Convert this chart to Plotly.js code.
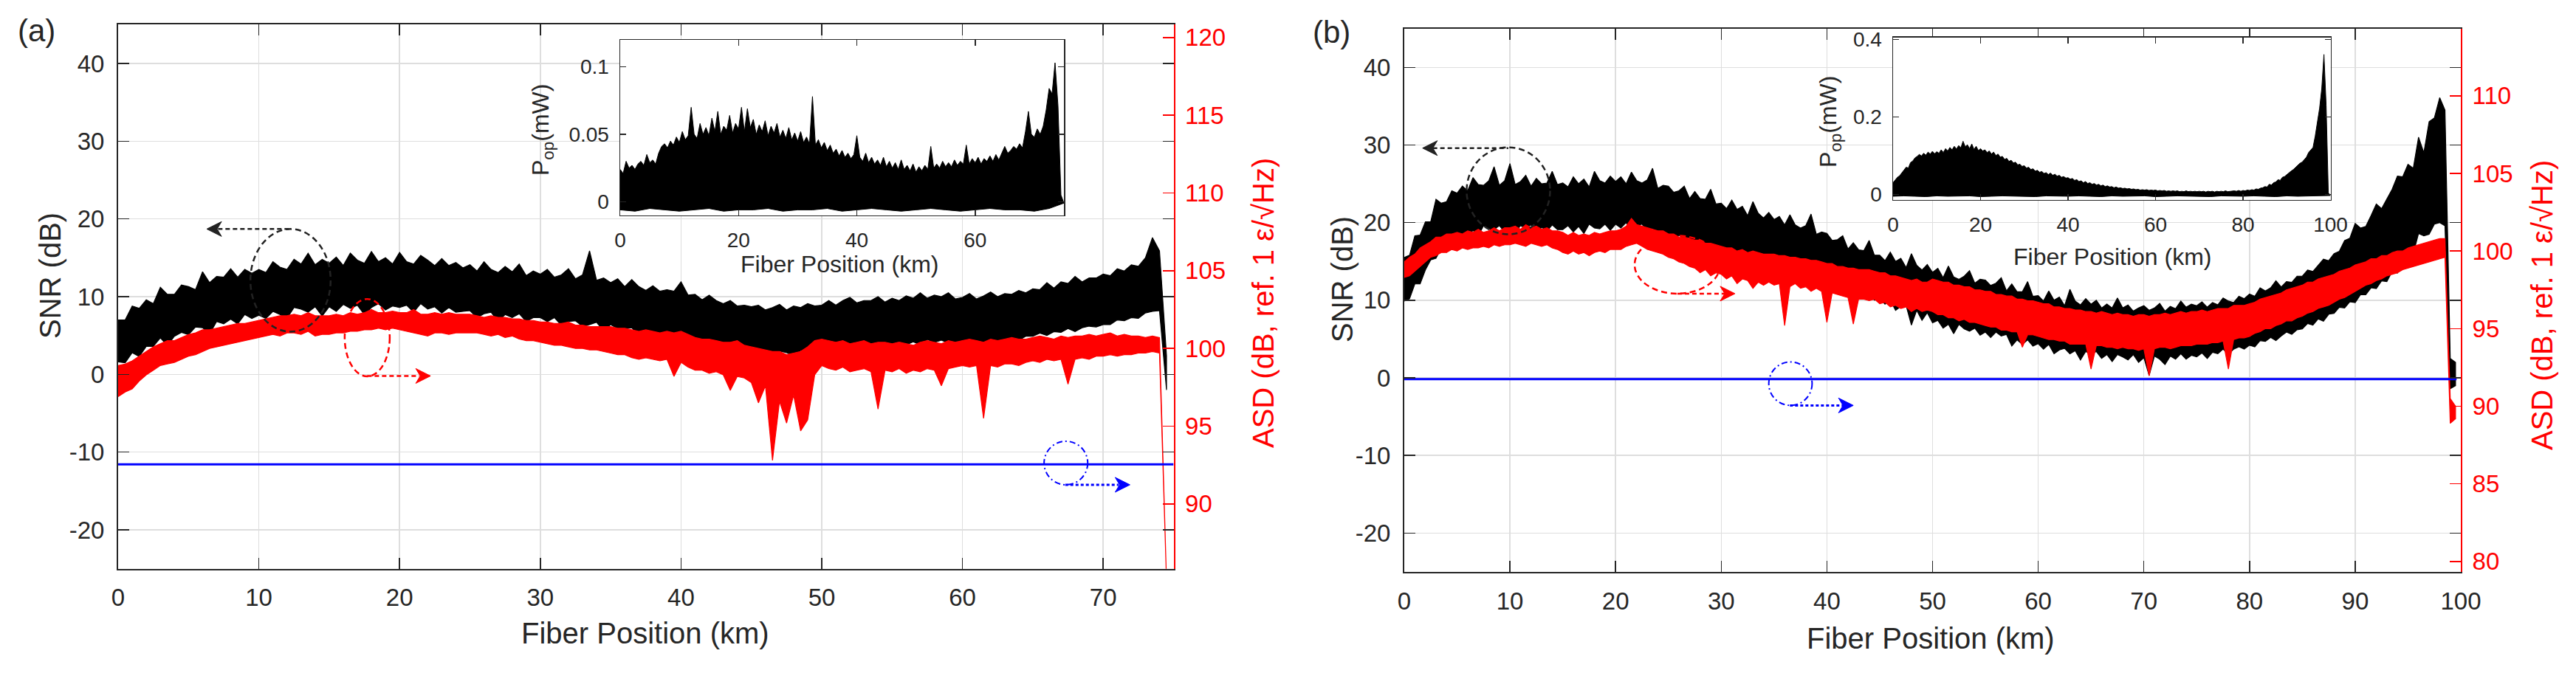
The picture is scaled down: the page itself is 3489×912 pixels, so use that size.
<!DOCTYPE html>
<html><head><meta charset="utf-8">
<script src="https://cdn.plot.ly/plotly-3.0.1.min.js"></script>
<style>html,body{margin:0;padding:0;background:#fff;}#chart{width:3489px;height:912px;}</style>
</head><body><div id="chart"></div>
<script>
// ===================== DATA =====================
// Panel (a): 75 km fibre. Envelopes of the dense traces, one bin every 0.5 km starting at 0 km.
const binKmA = 0.5;
const snrA_hi = [7.0,7.0,8.8,8.5,9.6,9.1,11.2,10.3,10.3,11.5,
11.3,10.9,13.2,11.8,12.6,12.5,13.6,12.5,13.5,13.0,
13.5,13.1,14.5,13.8,13.5,14.8,14.2,15.6,14.1,14.8,
14.3,15.1,14.0,15.6,14.7,14.3,15.8,14.5,15.0,14.2,
15.7,14.5,14.2,15.3,14.7,14.0,14.9,14.0,14.4,13.7,
14.1,13.3,14.5,13.5,13.1,13.9,13.2,14.2,12.7,13.3,
12.9,13.5,12.5,12.8,13.6,12.3,12.8,15.9,12.1,12.4,
11.8,12.3,11.3,12.2,11.3,10.8,11.4,10.7,10.9,10.7,
11.9,10.2,10.3,9.6,10.2,9.5,9.1,9.5,8.8,8.9,
8.7,8.9,8.3,8.6,9.0,8.3,8.8,8.6,9.1,8.8,
8.9,9.5,8.9,9.5,9.9,9.2,9.5,9.5,10.0,9.3,
9.8,9.5,10.1,9.8,10.5,9.8,10.2,10.0,10.5,9.7,
9.9,10.4,9.7,10.1,10.6,10.0,10.4,10.3,10.8,10.5,
11.0,10.9,11.8,11.1,11.9,11.7,12.6,11.9,12.4,12.4,
12.9,12.7,13.6,13.3,14.1,13.9,15.0,17.6,15.9,2.4];
const snrA_lo = [1.6,1.5,2.8,2.3,3.6,3.6,4.7,3.7,4.9,5.4,
5.1,6.1,6.0,5.2,6.8,6.5,7.1,6.5,7.7,7.2,
7.6,7.2,8.1,7.7,7.2,8.6,8.4,8.0,8.7,7.5,
8.7,8.1,9.0,8.5,8.9,7.7,8.6,9.1,8.3,8.8,
8.6,8.9,8.0,9.1,8.4,8.7,7.9,8.6,8.0,8.1,
8.2,7.3,7.8,8.0,6.8,7.7,7.3,7.8,6.8,7.3,
7.3,6.8,7.3,6.3,6.8,6.9,6.2,6.4,6.7,5.6,
6.4,5.9,5.9,6.0,5.0,5.4,5.0,4.4,5.1,4.9,
4.9,4.3,4.6,4.0,4.0,3.2,3.8,3.3,2.9,3.2,
3.0,2.7,2.9,2.4,3.0,2.8,2.4,3.1,2.8,1.6,
3.5,3.3,3.1,3.9,3.6,3.4,3.8,3.6,4.0,3.8,
3.9,4.2,3.8,4.2,3.8,4.5,4.1,4.4,4.0,4.2,
4.3,4.0,4.4,4.1,4.6,4.1,4.4,4.7,4.4,4.9,
4.9,5.3,5.0,5.5,5.4,5.9,5.5,6.0,6.2,6.1,
6.4,6.4,7.0,6.9,7.3,7.2,7.9,8.1,8.2,-2.0];
const asdA_hi = [98.9,99.0,99.2,99.5,99.8,100.1,100.3,100.5,100.5,100.7,
100.9,101.0,101.2,101.2,101.3,101.4,101.5,101.6,101.6,101.7,
101.8,101.9,102.0,102.1,102.1,102.2,102.1,102.3,102.1,102.1,
102.1,102.2,102.1,102.3,102.2,102.3,102.5,102.3,102.3,102.4,
102.3,102.3,102.5,102.2,102.2,102.3,102.2,102.3,102.2,102.2,
102.2,102.1,102.0,102.1,102.0,102.0,101.9,101.9,101.8,101.8,
101.7,101.7,101.6,101.6,101.7,101.5,101.5,101.4,101.4,101.4,
101.4,101.3,101.3,101.2,101.1,101.2,101.1,101.0,101.1,101.0,
101.1,100.9,100.7,100.6,100.6,100.5,100.4,100.4,100.5,100.2,
100.1,100.0,99.9,99.8,99.8,99.6,99.7,99.8,100.1,100.5,
100.6,100.5,100.4,100.5,100.3,100.4,100.5,100.3,100.4,100.4,
100.3,100.4,100.3,100.2,100.4,100.5,100.4,100.3,100.5,100.4,
100.5,100.6,100.5,100.4,100.6,100.5,100.6,100.7,100.6,100.6,
100.7,100.8,100.7,100.6,100.8,100.7,100.8,100.8,100.9,100.8,
100.9,101.0,100.8,100.9,100.8,100.8,100.7,100.8,100.7,85.0];
const asdA_lo = [96.9,97.2,97.4,97.9,98.3,98.6,98.9,99.0,99.1,99.3,
99.5,99.6,99.8,100.0,100.1,100.2,100.3,100.4,100.5,100.6,
100.7,100.8,100.9,100.8,101.0,101.0,100.9,101.1,100.8,100.9,
100.9,101.0,101.0,101.1,101.1,101.2,101.2,101.3,101.2,101.3,
101.2,101.1,101.0,100.9,100.8,101.0,101.0,100.9,101.0,101.0,
101.0,101.0,100.9,100.8,100.9,100.7,100.8,100.6,100.5,100.5,
100.4,100.3,100.2,100.2,100.1,100.0,100.0,99.9,99.9,99.8,
99.7,99.6,99.6,99.4,99.3,99.4,99.3,99.2,99.3,98.2,
99.1,98.8,98.6,98.6,98.4,98.5,98.3,97.3,98.2,98.1,
97.8,96.5,97.6,92.8,96.6,95.2,97.0,94.7,95.4,98.3,
98.9,98.7,98.6,98.8,98.5,98.6,98.7,98.5,96.1,98.6,
98.5,98.7,98.4,98.6,98.5,98.7,98.6,97.6,98.7,98.8,
98.9,98.8,98.9,95.5,98.9,98.8,99.0,99.0,98.9,99.1,
99.2,99.1,99.3,99.2,99.3,97.7,99.3,99.4,99.3,99.5,
99.5,99.6,99.5,99.6,99.6,99.7,99.7,99.8,99.7,85.0];
const noiseFloorA_km = [0, 75];
const noiseFloorA_asd = [92.54, 92.54];
// Inset (a): optical power, top envelope every 0.5 km, bottom envelope every 2.5 km
const binKmPopTop = 0.5, binKmPopBot = 2.5;
const popA_top = [0.024,0.021,0.030,0.025,0.027,0.024,0.028,0.030,0.027,0.035,
0.029,0.031,0.028,0.036,0.041,0.043,0.040,0.045,0.042,0.048,
0.044,0.052,0.046,0.049,0.070,0.050,0.047,0.058,0.050,0.055,
0.049,0.062,0.052,0.067,0.050,0.056,0.053,0.064,0.051,0.058,
0.054,0.070,0.052,0.069,0.055,0.061,0.050,0.057,0.052,0.060,
0.049,0.056,0.051,0.058,0.048,0.053,0.047,0.055,0.046,0.051,
0.045,0.052,0.044,0.048,0.043,0.078,0.042,0.046,0.040,0.044,
0.038,0.042,0.036,0.039,0.034,0.038,0.033,0.036,0.032,0.035,
0.049,0.033,0.030,0.036,0.029,0.033,0.028,0.031,0.027,0.033,
0.026,0.030,0.025,0.029,0.024,0.031,0.024,0.027,0.023,0.028,
0.022,0.026,0.023,0.027,0.024,0.041,0.025,0.028,0.025,0.030,
0.026,0.029,0.026,0.031,0.027,0.030,0.028,0.042,0.028,0.032,
0.029,0.033,0.028,0.032,0.030,0.034,0.030,0.035,0.031,0.036,
0.041,0.036,0.038,0.041,0.039,0.043,0.040,0.052,0.067,0.050,
0.048,0.054,0.050,0.056,0.068,0.084,0.080,0.103,0.071,0.005];
const popA_bot = [-0.006,-0.007,-0.005,-0.006,-0.007,-0.006,-0.005,-0.007,-0.006,-0.006,
-0.005,-0.007,-0.006,-0.006,-0.005,-0.007,-0.006,-0.005,-0.006,-0.007,
-0.006,-0.005,-0.006,-0.007,-0.006,-0.005,-0.006,-0.006,-0.007,-0.005,-0.001];

// Panel (b): 100 km fibre, bins every 0.5 km
const binKmB = 0.5;
const snrB_hi = [15.5,15.8,18.3,18.4,20.1,20.1,23.0,22.5,22.7,24.1,
23.8,24.7,24.1,25.8,24.9,24.8,25.4,27.2,24.8,25.4,
27.6,24.9,25.3,26.1,24.7,25.7,25.0,25.1,26.6,24.9,
25.1,24.6,25.9,25.0,25.6,24.6,26.6,25.4,25.1,26.0,
25.3,25.9,25.0,26.5,25.4,25.1,25.5,27.0,24.4,24.8,
24.7,23.9,24.1,24.7,23.1,24.0,23.1,23.0,24.3,22.4,
22.5,21.8,22.9,21.7,22.1,20.9,22.7,21.2,20.6,21.3,
20.4,20.8,19.7,21.0,19.7,19.3,19.6,21.1,18.5,18.8,
18.6,17.7,17.8,18.3,16.6,17.4,16.5,16.4,17.7,15.8,
15.8,15.1,16.2,15.0,15.4,14.2,16.0,14.5,13.9,14.6,
13.6,14.1,12.9,14.4,13.0,12.7,13.1,13.8,12.2,12.7,
12.6,11.9,12.2,12.9,11.2,12.1,11.1,11.1,12.4,10.5,
10.6,9.9,11.2,10.0,10.4,9.3,11.4,9.9,9.4,10.2,
9.5,10.0,9.0,9.5,9.0,10.3,9.0,9.4,8.6,9.0,
9.3,8.7,9.0,9.6,8.6,9.2,8.9,9.9,9.1,9.5,
9.3,9.8,9.1,9.7,9.4,10.3,9.9,9.7,10.5,10.2,
10.8,10.5,11.6,11.2,11.6,12.5,11.7,12.4,12.3,13.1,
13.1,13.9,13.7,14.5,15.3,15.1,16.0,16.3,17.7,18.0,
19.9,19.3,19.5,20.9,22.4,21.8,23.1,24.3,26.0,25.9,
27.5,27.0,31.0,29.0,33.0,33.5,36.1,34.5,2.5,2.0];
const snrB_lo = [9.9,10.2,12.1,12.1,13.9,15.2,15.4,16.7,16.2,17.9,
17.9,18.7,18.2,19.0,18.3,19.6,19.2,19.1,19.6,18.8,
19.4,18.8,19.6,19.3,19.7,18.4,19.4,18.9,19.7,19.1,
19.1,19.6,18.8,19.5,18.6,19.8,19.3,19.2,19.8,19.0,
19.8,19.3,20.0,18.9,19.6,19.8,19.0,19.3,18.0,19.0,
18.6,17.8,18.4,17.9,18.1,16.7,17.5,16.8,17.4,16.6,
16.9,16.2,16.7,15.4,15.9,16.0,15.1,15.4,14.1,15.1,
14.5,14.8,13.8,14.2,13.1,14.1,13.4,13.0,13.3,12.2,
12.5,11.6,12.1,11.5,11.6,10.1,10.9,10.2,10.8,10.0,
10.2,9.5,10.0,8.7,9.2,9.3,6.8,8.7,7.4,8.4,
7.1,7.4,6.4,6.9,5.7,6.9,6.3,6.0,6.4,5.5,
5.9,5.2,5.9,5.4,5.6,4.1,4.9,4.3,4.9,4.1,
4.4,3.7,4.3,3.1,3.6,3.8,3.1,3.5,2.3,3.4,
3.0,3.4,2.5,3.0,2.1,3.0,2.7,2.3,3.0,2.0,
2.6,0.3,2.8,2.4,1.7,2.8,2.4,3.1,2.4,2.9,
2.7,3.2,2.5,3.3,3.1,3.7,3.0,3.7,4.0,3.7,
4.2,4.0,4.8,4.7,5.2,4.8,5.4,5.9,5.6,6.2,
6.3,7.0,6.8,7.6,7.3,8.2,8.3,9.1,9.0,9.8,
9.7,10.7,10.7,11.6,11.5,12.5,12.4,13.7,13.5,14.7,
15.0,16.0,18.6,18.3,18.5,19.8,20.0,19.6,-1.4,-1.0];
const asdB_hi = [99.3,99.6,99.8,100.2,100.4,100.6,100.9,100.9,101.1,101.1,
101.2,101.1,101.3,101.2,101.4,101.2,101.3,101.5,101.3,101.5,
101.5,101.6,101.4,101.7,101.5,101.6,101.4,101.5,101.3,101.3,
101.2,101.0,101.2,101.0,101.1,101.0,101.2,101.1,101.2,101.3,
101.3,101.4,101.6,102.1,101.7,101.6,101.5,101.4,101.3,101.3,
101.1,101.1,100.9,100.9,100.8,100.7,100.7,100.5,100.5,100.4,
100.3,100.2,100.2,100.0,100.1,99.9,100.0,99.9,99.8,99.8,
99.8,99.7,99.7,99.6,99.6,99.5,99.5,99.4,99.4,99.3,
99.2,99.2,99.0,99.0,98.9,98.9,98.8,98.8,98.8,98.7,
98.6,98.6,98.4,98.4,98.3,98.2,98.1,98.2,98.0,98.0,
98.2,98.1,98.0,98.0,97.8,97.8,97.7,97.7,97.5,97.5,
97.4,97.4,97.2,97.2,97.1,97.1,96.9,96.9,96.8,96.8,
96.7,96.6,96.6,96.4,96.4,96.3,96.3,96.2,96.2,96.1,
96.1,96.0,96.1,96.0,95.9,96.0,95.9,95.9,95.8,95.9,
95.9,95.8,95.9,95.9,96.0,95.9,96.0,96.1,96.0,96.1,
96.1,96.2,96.1,96.2,96.3,96.3,96.3,96.5,96.5,96.5,
96.6,96.7,96.9,97.0,97.1,97.2,97.3,97.5,97.6,97.7,
97.8,98.0,98.0,98.2,98.3,98.4,98.5,98.7,98.8,98.9,
99.1,99.2,99.3,99.5,99.5,99.7,99.7,99.9,100.0,100.0,
100.2,100.3,100.4,100.5,100.6,100.7,100.8,100.8,90.5,90.0];
const asdB_lo = [98.3,98.4,98.7,99.0,99.3,99.6,99.7,99.9,99.9,100.1,
100.0,100.2,100.1,100.2,100.2,100.3,100.2,100.4,100.3,100.4,
100.4,100.5,100.4,100.3,100.5,100.4,100.3,100.4,100.2,100.1,
99.9,99.8,100.0,99.8,99.9,99.7,99.9,100.0,99.9,100.1,
100.1,100.1,100.3,100.4,100.5,100.3,100.1,100.0,99.9,99.8,
99.6,99.5,99.3,99.2,99.0,98.9,98.6,98.8,98.4,98.6,
98.5,98.2,98.4,97.9,98.2,98.1,97.6,98.0,97.8,98.0,
97.8,97.9,95.2,97.7,97.9,97.6,97.7,97.4,97.6,97.4,
95.4,97.3,97.2,97.1,97.0,95.3,96.9,96.9,96.8,96.9,
96.6,96.7,96.4,96.5,96.3,96.4,96.1,96.3,96.1,96.2,
96.1,95.9,95.9,95.7,95.7,95.5,95.6,95.4,95.4,95.3,
95.2,95.1,95.1,94.9,94.9,94.8,94.8,93.8,94.6,94.6,
94.5,94.4,94.3,94.3,94.2,94.2,94.0,94.0,94.0,94.0,
92.4,93.9,93.9,93.8,93.8,93.7,93.8,93.7,93.7,93.6,
93.7,91.95,93.7,93.8,93.8,93.7,93.8,93.9,93.9,93.9,
94.0,94.0,94.0,94.1,94.1,94.2,92.4,94.3,94.4,94.4,
94.5,94.7,94.8,95.0,95.0,95.2,95.3,95.5,95.5,95.7,
95.8,96.0,96.1,96.3,96.4,96.5,96.7,96.9,97.0,97.2,
97.4,97.6,97.8,97.9,98.1,98.2,98.4,98.5,98.6,98.8,
98.9,99.0,99.1,99.2,99.3,99.4,99.5,99.6,88.9,89.2];
const noiseFloorB_km = [0, 99.6];
const noiseFloorB_asd = [91.75, 91.75];
const popB_top = [0.030,0.038,0.044,0.048,0.056,0.062,0.070,0.068,0.082,0.086,
0.094,0.098,0.103,0.099,0.106,0.101,0.109,0.104,0.111,0.105,
0.110,0.106,0.115,0.108,0.118,0.112,0.121,0.115,0.124,0.117,
0.126,0.120,0.137,0.123,0.128,0.118,0.130,0.116,0.124,0.113,
0.118,0.112,0.115,0.108,0.112,0.104,0.109,0.100,0.104,0.096,
0.098,0.090,0.093,0.085,0.088,0.081,0.083,0.076,0.078,0.072,
0.074,0.068,0.070,0.064,0.066,0.060,0.062,0.057,0.059,0.054,
0.056,0.051,0.055,0.049,0.052,0.047,0.049,0.044,0.046,0.042,
0.043,0.039,0.041,0.036,0.038,0.033,0.035,0.030,0.033,0.028,
0.030,0.026,0.028,0.024,0.026,0.022,0.024,0.020,0.022,0.019,
0.020,0.017,0.019,0.016,0.017,0.015,0.016,0.014,0.015,0.013,
0.014,0.012,0.013,0.011,0.012,0.011,0.012,0.010,0.011,0.010,
0.011,0.009,0.010,0.009,0.010,0.008,0.009,0.008,0.009,0.008,
0.009,0.007,0.008,0.007,0.009,0.007,0.008,0.007,0.008,0.007,
0.008,0.007,0.008,0.006,0.008,0.007,0.008,0.006,0.008,0.007,
0.008,0.007,0.009,0.007,0.008,0.008,0.009,0.008,0.010,0.008,
0.010,0.009,0.011,0.010,0.012,0.011,0.014,0.013,0.016,0.017,
0.020,0.019,0.026,0.024,0.030,0.032,0.038,0.036,0.044,0.046,
0.051,0.055,0.060,0.064,0.070,0.074,0.080,0.083,0.089,0.096,
0.108,0.114,0.121,0.150,0.184,0.222,0.273,0.361,0.230,0.004];
const popB_bot = [-0.005,-0.004,-0.005,-0.006,-0.004,-0.005,-0.005,-0.004,-0.006,-0.005,
-0.004,-0.005,-0.005,-0.006,-0.004,-0.005,-0.005,-0.004,-0.005,-0.006,
-0.004,-0.005,-0.005,-0.004,-0.006,-0.005,-0.004,-0.005,-0.005,-0.006,
-0.004,-0.005,-0.005,-0.004,-0.005,-0.006,-0.004,-0.005,-0.005,-0.004,-0.003];

// Tick values / labels
const xTicksA = [0,10,20,30,40,50,60,70];
const xTicksB = [0,10,20,30,40,50,60,70,80,90,100];
const snrTicks = [-20,-10,0,10,20,30,40];
const snrTickLabels = ['-20','-10','0','10','20','30','40'];
const asdTicksA = [90,95,100,105,110,115,120];
const asdTicksB = [80,85,90,95,100,105,110];
const insetXTicksA = [0,20,40,60];
const insetXTicksB = [0,20,40,60,80,100];
const insetYTicksA = [0,0.05,0.1], insetYLabelsA = ['0','0.05','0.1'];
const insetYTicksB = [0,0.2,0.4], insetYLabelsB = ['0','0.2','0.4'];

// ===================== DRAWING =====================
const W = 3489, H = 912;
const AX = '#262626', RED = '#ff0000', BLUE = '#0000ff', BLK = '#000000', GRID = '#dedede';
const FONT = 'Arial, "Liberation Sans", Helvetica, sans-serif';
const px = v => v / W, py = v => 1 - v / H;

// filled envelope of a dense noisy trace
function band(hi, lo, stepHi, stepLo) {
  const x = [], y = [];
  for (let i = 0; i < hi.length; i++) { x.push(i * stepHi); y.push(hi[i]); }
  for (let j = lo.length - 1; j >= 0; j--) { x.push(j * stepLo); y.push(lo[j]); }
  return { x, y };
}
function bandTrace(b, color, xa, ya, lw) {
  return { type: 'scatter', mode: 'lines', x: b.x, y: b.y, xaxis: xa, yaxis: ya,
    fill: 'toself', fillcolor: color, line: { color: color, width: lw || 1 }, hoverinfo: 'skip' };
}
function lineTrace(b, color, xa, ya, lw) {
  return { type: 'scatter', mode: 'lines', x: b.x, y: b.y, xaxis: xa, yaxis: ya,
    line: { color: color, width: lw }, hoverinfo: 'skip' };
}

const traces = [
  bandTrace(band(snrA_hi, snrA_lo, binKmA, binKmA), BLK, 'x', 'y', 1.2),
  bandTrace(band(asdA_hi, asdA_lo, binKmA, binKmA), RED, 'x', 'y2', 1.2),
  lineTrace({ x: noiseFloorA_km, y: noiseFloorA_asd }, BLUE, 'x', 'y2', 3),
  bandTrace(band(snrB_hi, snrB_lo, binKmB, binKmB), BLK, 'x2', 'y3', 1.2),
  bandTrace(band(asdB_hi, asdB_lo, binKmB, binKmB), RED, 'x2', 'y4', 1.2),
  lineTrace({ x: noiseFloorB_km, y: noiseFloorB_asd }, BLUE, 'x2', 'y4', 3),
  bandTrace(band(popA_top, popA_bot, binKmPopTop, binKmPopBot), BLK, 'x3', 'y5', 1),
  bandTrace(band(popB_top, popB_bot, binKmPopTop, binKmPopBot), BLK, 'x4', 'y6', 1)
];

function mainX(domain, range, ticks, anchor) {
  return { domain, range, anchor, tickvals: ticks, ticks: 'inside', ticklen: 15, tickwidth: 1.5, tickcolor: AX,
    showline: true, linecolor: AX, linewidth: 2, mirror: 'ticks', showgrid: true, gridcolor: GRID, gridwidth: 1.5,
    zeroline: false, tickfont: { family: FONT, size: 33, color: AX }, ticklabelstandoff: 9, fixedrange: true };
}
function mainY(domain, range, anchor) {
  return { domain, range, anchor, tickvals: snrTicks, ticktext: snrTickLabels, ticks: 'inside', ticklen: 15, tickwidth: 1.5,
    tickcolor: AX, showline: true, linecolor: AX, linewidth: 2, mirror: 'ticks', showgrid: true, gridcolor: GRID, gridwidth: 1.5,
    zeroline: false, tickfont: { family: FONT, size: 33, color: AX }, ticklabelstandoff: 10, fixedrange: true };
}
function rightY(over, anchor, range, ticks) {
  return { overlaying: over, anchor, side: 'right', range, tickvals: ticks, ticks: 'inside', ticklen: 15, tickwidth: 1.5,
    tickcolor: RED, showline: true, linecolor: RED, linewidth: 2, showgrid: false, zeroline: false,
    tickfont: { family: FONT, size: 33, color: RED }, ticklabelstandoff: 7, fixedrange: true };
}
function insetX(domain, range, ticks, anchor) {
  return { domain, range, anchor, tickvals: ticks, ticks: 'inside', ticklen: 8, tickwidth: 1.5, tickcolor: AX,
    showline: true, linecolor: AX, linewidth: 1.5, mirror: 'ticks', showgrid: false, zeroline: false,
    tickfont: { family: FONT, size: 28, color: AX }, ticklabelstandoff: 8, fixedrange: true };
}
function insetY(domain, range, ticks, labels, anchor) {
  return { domain, range, anchor, tickvals: ticks, ticktext: labels, ticks: 'inside', ticklen: 8, tickwidth: 1.5, tickcolor: AX,
    showline: true, linecolor: AX, linewidth: 1.5, mirror: 'ticks', showgrid: false, zeroline: false,
    tickfont: { family: FONT, size: 28, color: AX }, ticklabelstandoff: 8, fixedrange: true };
}

// arrow head drawn as a pixel-sized filled shape anchored at its tip
function head(xref, yref, x, y, dir, color) {
  const L = 20 * dir, N = 14 * dir, Hh = 10;
  return { type: 'path', xref, yref, xsizemode: 'pixel', ysizemode: 'pixel', xanchor: x, yanchor: y,
    path: `M0,0 L${-L},${Hh} L${-N},0 L${-L},${-Hh} Z`, fillcolor: color, line: { color: color, width: 1 } };
}

const shapes = [
  // white backgrounds of the insets (they hide the main grid)
  { type: 'rect', xref: 'x3', yref: 'y5', x0: 0, x1: 75, y0: -0.01, y1: 0.12, fillcolor: '#fff', line: { width: 0 }, layer: 'below' },
  { type: 'rect', xref: 'x4', yref: 'y6', x0: 0, x1: 100, y0: -0.014, y1: 0.405, fillcolor: '#fff', line: { width: 0 }, layer: 'below' },
  // panel (a) callouts
  { type: 'circle', xref: 'x', yref: 'y', x0: 9.4, x1: 15.1, y0: 5.5, y1: 18.7, line: { color: '#222', width: 2.5, dash: '8px,5px' } },
  { type: 'line', xref: 'x', yref: 'y', x0: 7.1, x1: 12.25, y0: 18.7, y1: 18.7, line: { color: '#222', width: 2.5, dash: '6px,4px' } },
  head('x', 'y', 6.3, 18.7, -1, '#222'),
  { type: 'circle', xref: 'x', yref: 'y', x0: 16.1, x1: 19.3, y0: -0.25, y1: 9.7, line: { color: RED, width: 2.5, dash: '8px,5px' } },
  { type: 'line', xref: 'x', yref: 'y', x0: 17.7, x1: 21.4, y0: -0.2, y1: -0.2, line: { color: RED, width: 2.5, dash: '6px,4px' } },
  head('x', 'y', 22.2, -0.2, 1, RED),
  { type: 'circle', xref: 'x', yref: 'y', x0: 65.8, x1: 68.9, y0: -14.2, y1: -8.6, line: { color: BLUE, width: 2, dash: '8px,4px,2px,4px' } },
  { type: 'line', xref: 'x', yref: 'y', x0: 67.3, x1: 71.1, y0: -14.2, y1: -14.2, line: { color: BLUE, width: 3, dash: '4px,3px' } },
  head('x', 'y', 71.9, -14.2, 1, BLUE),
  // panel (b) callouts
  { type: 'circle', xref: 'x2', yref: 'y3', x0: 5.9, x1: 13.8, y0: 18.5, y1: 29.7, line: { color: '#222', width: 2.5, dash: '8px,5px' } },
  { type: 'line', xref: 'x2', yref: 'y3', x0: 2.7, x1: 9.85, y0: 29.6, y1: 29.6, line: { color: '#222', width: 2.5, dash: '6px,4px' } },
  head('x2', 'y3', 1.73, 29.6, -1, '#222'),
  { type: 'circle', xref: 'x2', yref: 'y3', x0: 21.8, x1: 29.9, y0: 10.85, y1: 18.3, line: { color: RED, width: 2.5, dash: '8px,5px' } },
  { type: 'line', xref: 'x2', yref: 'y3', x0: 25.85, x1: 30.4, y0: 10.85, y1: 10.85, line: { color: RED, width: 2.5, dash: '6px,4px' } },
  head('x2', 'y3', 31.3, 10.85, 1, RED),
  { type: 'circle', xref: 'x2', yref: 'y3', x0: 34.5, x1: 38.6, y0: -3.55, y1: 2.05, line: { color: BLUE, width: 2, dash: '8px,4px,2px,4px' } },
  { type: 'line', xref: 'x2', yref: 'y3', x0: 36.5, x1: 41.6, y0: -3.55, y1: -3.55, line: { color: BLUE, width: 3, dash: '4px,3px' } },
  head('x2', 'y3', 42.5, -3.55, 1, BLUE)
];

function label(text, x, y, size, color, angle) {
  return { xref: 'paper', yref: 'paper', x: px(x), y: py(y), xanchor: 'center', yanchor: 'middle', showarrow: false,
    text, textangle: angle || 0, font: { family: FONT, size, color: color || AX } };
}

const annotations = [
  label('(a)', 49, 42, 42),
  label('(b)', 1803, 43, 42),
  label('SNR (dB)', 68, 374, 40, AX, -90),
  label('SNR (dB)', 1818, 379, 40, AX, -90),
  label('ASD (dB, ref. 1 ε/√Hz)', 1711, 411, 40, RED, -90),
  label('ASD (dB, ref. 1 ε/√Hz)', 3443, 414, 40, RED, -90),
  label('Fiber Position (km)', 874, 858, 40),
  label('Fiber Position (km)', 2615, 865, 40),
  label('Fiber Position (km)', 1137, 358, 32),
  label('Fiber Position (km)', 2861, 348, 32),
  label('P<sub>op</sub>(mW)', 735, 176, 32, AX, -90),
  label('P<sub>op</sub>(mW)', 2478, 165, 32, AX, -90)
];

const layout = {
  width: W, height: H, margin: { l: 0, r: 0, t: 0, b: 0 }, paper_bgcolor: '#fff', plot_bgcolor: '#fff',
  showlegend: false, hovermode: false, font: { family: FONT, color: AX },
  xaxis: mainX([px(160), px(1589.5)], [0, 75], xTicksA, 'y'),
  yaxis: mainY([py(770.7), py(33.3)], [-25, 45], 'x'),
  yaxis2: rightY('y', 'x', [85.83, 120.83], asdTicksA),
  xaxis2: mainX([px(1902), px(3333)], [0, 100], xTicksB, 'y3'),
  yaxis3: mainY([py(775), py(38.7)], [-25, 45], 'x2'),
  yaxis4: rightY('y3', 'x2', [79.33, 114.33], asdTicksB),
  xaxis3: insetX([px(840), px(1441)], [0, 75], insetXTicksA, 'y5'),
  yaxis5: insetY([py(291.7), py(54)], [-0.01, 0.12], insetYTicksA, insetYLabelsA, 'x3'),
  xaxis4: insetX([px(2564), px(3156.5)], [0, 100], insetXTicksB, 'y6'),
  yaxis6: insetY([py(270.7), py(50.7)], [-0.014, 0.405], insetYTicksB, insetYLabelsB, 'x4'),
  shapes, annotations
};

Plotly.newPlot('chart', traces, layout, { staticPlot: true, displayModeBar: false });
</script></body></html>
